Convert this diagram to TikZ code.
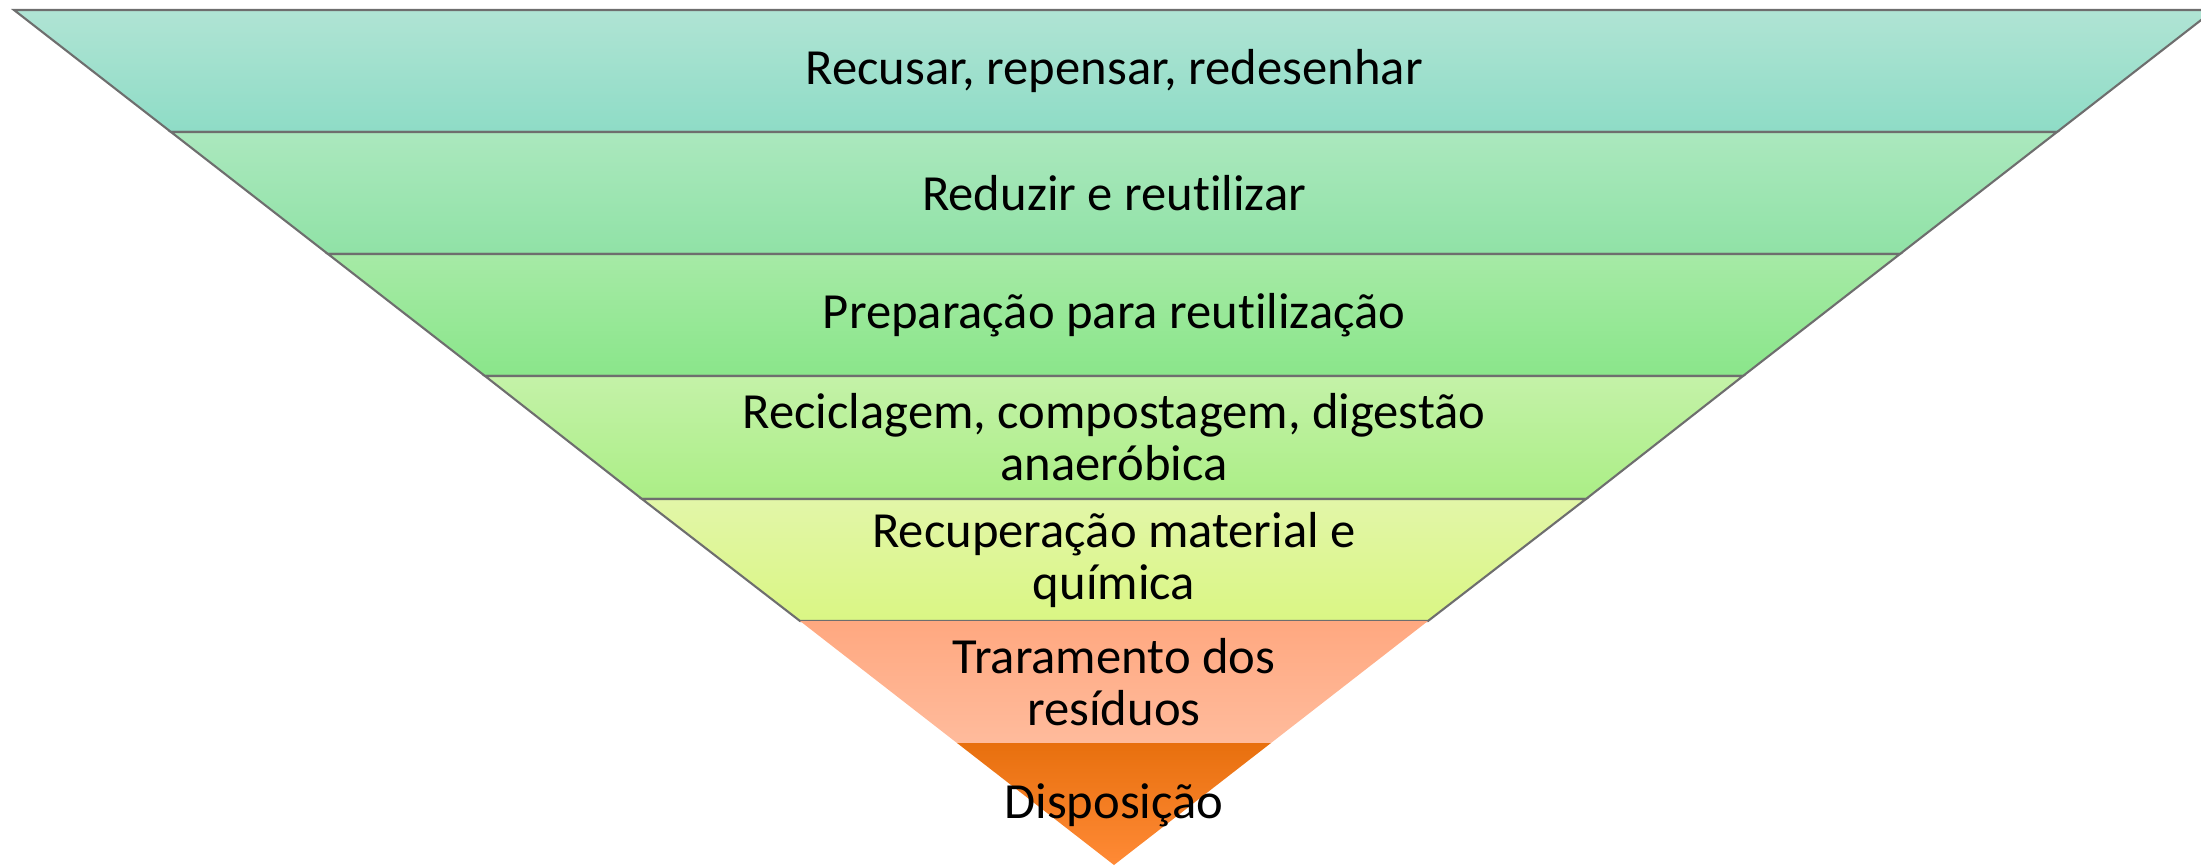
\documentclass[tikz,border=0pt]{standalone}
\usepackage{fontspec}
\setmainfont[Ligatures=NoCommon]{Carlito}
\usepackage{tikz}

\definecolor{verdeA1}{HTML}{B0E4D4}
\definecolor{verdeA2}{HTML}{8EDCC6}
\definecolor{verdeB1}{HTML}{ABE8BE}
\definecolor{verdeB2}{HTML}{90E2A6}
\definecolor{verdeC1}{HTML}{A6EAA6}
\definecolor{verdeC2}{HTML}{8AE68A}
\definecolor{verdeD1}{HTML}{C4F2A8}
\definecolor{verdeD2}{HTML}{ABEE86}
\definecolor{limaE1}{HTML}{E2F6A8}
\definecolor{limaE2}{HTML}{DAF684}
\definecolor{laranjaF1}{HTML}{FFA880}
\definecolor{laranjaF2}{HTML}{FFBB9C}
\definecolor{laranjaG1}{HTML}{E8700E}
\definecolor{laranjaG2}{HTML}{FF8A36}
\definecolor{borda}{HTML}{6E6E6E}

\begin{document}
\begin{tikzpicture}[
  camada/.style={draw=borda,line width=0.6pt,shading=axis},
  camadaquente/.style={draw=none,shading=axis},
  rotulo/.style={align=center,text=black,font=\fontsize{14.4}{14.8}\selectfont}]
\useasboundingbox (0,0) rectangle (22.01,8.65);
\clip (0,0) rectangle (22.01,8.65);
% camadas, de cima para baixo
\shadedraw[camada,top color=verdeA1,bottom color=verdeA2] (0.14,8.55) -- (22.14,8.55) -- (20.57,7.33) -- (1.71,7.33) -- cycle;
\shadedraw[camada,top color=verdeB1,bottom color=verdeB2] (1.71,7.33) -- (20.57,7.33) -- (19.00,6.11) -- (3.28,6.11) -- cycle;
\shadedraw[camada,top color=verdeC1,bottom color=verdeC2] (3.28,6.11) -- (19.00,6.11) -- (17.43,4.89) -- (4.85,4.89) -- cycle;
\shadedraw[camada,top color=verdeD1,bottom color=verdeD2] (4.85,4.89) -- (17.43,4.89) -- (15.86,3.66) -- (6.42,3.66) -- cycle;
\shadedraw[camada,top color=limaE1,bottom color=limaE2] (6.42,3.66) -- (15.86,3.66) -- (14.28,2.44) -- (8.00,2.44) -- cycle;
\shade[camadaquente,top color=laranjaF1,bottom color=laranjaF2] (8.00,2.44) -- (14.28,2.44) -- (12.71,1.22) -- (9.57,1.22) -- cycle;
\shade[camadaquente,top color=laranjaG1,bottom color=laranjaG2] (9.57,1.22) -- (12.71,1.22) -- (11.14,0) -- cycle;
% textos
\node[rotulo] (recusar) at (11.14,7.94) {Recusar, repensar, redesenhar};
\node[rotulo] (reduzir) at (11.14,6.72) {Reduzir e reutilizar};
\node[rotulo] (preparacao) at (11.14,5.50) {Preparação para reutilização};
\node[rotulo] (reciclagem) at (11.14,4.28) {Reciclagem, compostagem, digestão\\anaeróbica};
\node[rotulo] (recuperacao) at (11.14,3.05) {Recuperação material e\\química};
\node[rotulo] (tratamento) at (11.14,1.83) {Traramento dos\\resíduos};
\node[rotulo] (disposicao) at (11.14,0.60) {Disposição};
\end{tikzpicture}
\end{document}
